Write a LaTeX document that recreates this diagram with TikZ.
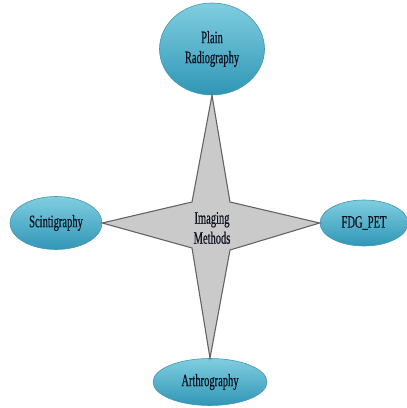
\documentclass[tikz,border=0pt]{standalone}
\usepackage{fontspec}
\setmainfont{Liberation Serif}[FakeStretch=0.6,FakeBold=0.6]
\usetikzlibrary{shapes.geometric}
\begin{document}
\begin{tikzpicture}[>=latex,line join=bevel,
  method/.style={ellipse, inner sep=0pt, top color=balltop, bottom color=ballbot,
    draw=balledge, line width=0.6bp, text=inkcol,
    font=\fontsize{17.5bp}{20bp}\selectfont, align=center},
  starbody/.style={fill=starfill, draw=staredge, line width=1.1bp, line join=miter},
]
  \definecolor{balltop}{RGB}{128,206,224}
  \definecolor{ballbot}{RGB}{48,150,182}
  \definecolor{balledge}{RGB}{70,150,175}
  \definecolor{starfill}{RGB}{202,202,202}
  \definecolor{staredge}{RGB}{100,100,100}
  \definecolor{inkcol}{RGB}{15,20,35}
  \useasboundingbox (0bp,0bp) rectangle (407bp,408bp);
%%
  % Node: radio
  \node[method, minimum width=105bp, minimum height=92bp] (radio) at (212bp,359bp) {Plain\\Radiography};
  % Node: arthro
  \node[method, minimum width=114bp, minimum height=47bp] (arthro) at (210bp,26bp) {Arthrography};
  % Node: scinti
  \node[method, minimum width=92bp, minimum height=53bp] (scinti) at (56bp,185bp) {Scintigraphy};
  % Node: fdg
  \node[method, minimum width=88bp, minimum height=46bp] (fdg) at (364bp,185bp) {FDG\_PET};
  % Inner corners of the star
  \coordinate (ul) at (192bp,206bp);
  \coordinate (ur) at (230bp,206bp);
  \coordinate (ll) at (192bp,160bp);
  \coordinate (lr) at (230bp,158bp);
  % Star between the four methods
  \draw[starbody] (radio.south) -- (ur) -- (fdg.west) -- (lr) -- (arthro.north)
    -- (ll) -- (scinti.east) -- (ul) -- cycle;
  % Node: imaging
  \node[text=inkcol, font=\fontsize{17.5bp}{20bp}\selectfont, align=center] (imaging) at (212bp,180bp) {Imaging\\Methods};
%
\end{tikzpicture}
\end{document}
